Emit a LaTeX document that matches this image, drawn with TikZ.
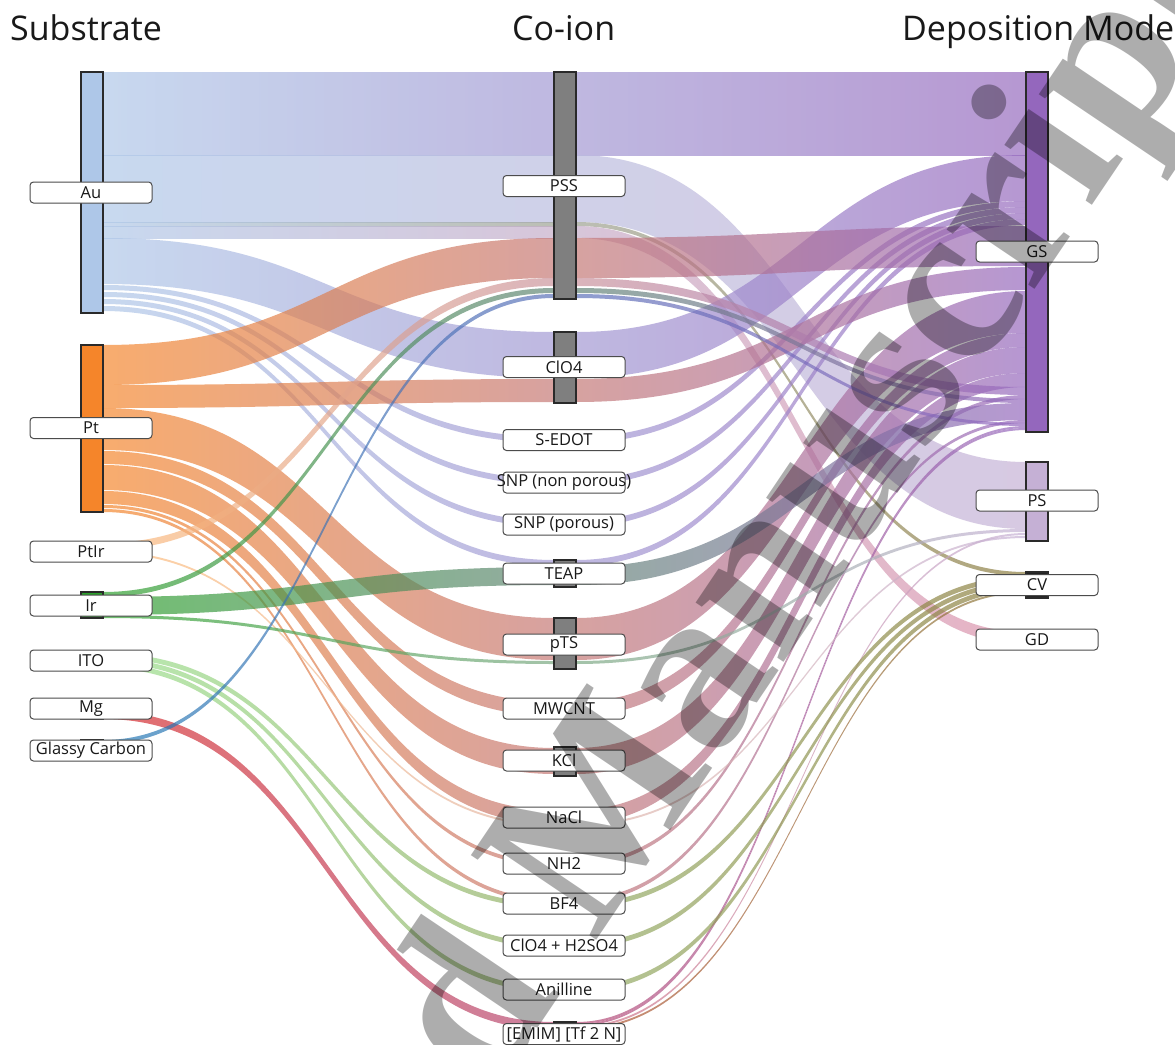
\documentclass[tikz,border=0pt]{standalone}
\usepackage{fontspec}
\setmainfont{Open Sans}
\newfontfamily\wmfont{Liberation Serif}
\usetikzlibrary{calc}
\pgfdeclarelayer{bg}
\pgfsetlayers{bg,main}
\definecolor{cAu}{HTML}{AEC7E8}
\definecolor{cPt}{HTML}{F5852A}
\definecolor{cPtIr}{HTML}{FFBB78}
\definecolor{cIr}{HTML}{2CA02C}
\definecolor{cITO}{HTML}{98DF8A}
\definecolor{cMg}{HTML}{D62728}
\definecolor{cGC}{HTML}{1F77B4}
\definecolor{cMid}{HTML}{7F7F7F}
\definecolor{cGS}{HTML}{9467BD}
\definecolor{cPS}{HTML}{C5B0D5}
\definecolor{cCV}{HTML}{8A7A3A}
\definecolor{cCVbar}{HTML}{222222}
\definecolor{cGD}{HTML}{DC8FA8}
\definecolor{cEdge}{HTML}{2A2A2A}
% band between two bars: src, src top y, src bottom y, tgt, tgt top y, tgt bottom y, left colour, right colour
\newcommand\flowband[8]{%
  \path[bandfill,left color=#7,right color=#8]
    let \p1=(#1.east |- 0,#2), \p2=(#1.east |- 0,#3),
        \p3=(#4.west |- 0,#5), \p4=(#4.west |- 0,#6),
        \p5=($(\p1)!0.5!(\p3)$)
    in (\p1) .. controls (\x5,\y1) and (\x5,\y3) .. (\p3)
       -- (\p4) .. controls (\x5,\y4) and (\x5,\y2) .. (\p2) -- cycle;}
\newcommand\labeltxt[1]{\makebox[0pt][c]{#1}}
\begin{document}
\begin{tikzpicture}[x=1pt,y=-1pt,
  bandfill/.style={fill opacity=0.68,draw=none},
  barbox/.style={draw=cEdge,line width=1.3pt,inner sep=0pt,outer sep=0pt,minimum width=22pt,anchor=north west},
  lbl/.style={draw=black!70,line width=1pt,fill=white,rounded corners=3.5pt,minimum width=122pt,minimum height=21pt,inner sep=0pt,font=\fontsize{16.5}{18}\selectfont,text=black!90},
  ttl/.style={anchor=base west,inner sep=0pt,font=\fontsize{34}{40}\selectfont,text=black!90},
  wm/.style={inner sep=0pt,rotate=56,font=\wmfont\bfseries\fontsize{231}{231}\selectfont,text=black,text opacity=0.32}]
\useasboundingbox (0,0) rectangle (1175,1044);
\begin{pgfonlayer}{bg}
\fill[white] (0,0) rectangle (1175,1044);
\end{pgfonlayer}
% titles
\node[ttl] (tS) at (10,40) {Substrate};
\node[ttl] (tC) at (512,40) {Co-ion};
\node[ttl] (tD) at (902,40) {Deposition Mode};
% substrate bars
\node[barbox,fill=cAu,minimum height=241pt] (Au) at (81,72) {};
\node[barbox,fill=cPt,minimum height=167pt] (Pt) at (81,345) {};
\node[barbox,fill=cPtIr,minimum height=10pt] (PtIr) at (81,543) {};
\node[barbox,fill=cIr,minimum height=26pt] (Ir) at (81,592) {};
\node[barbox,fill=cITO,minimum height=15pt] (ITO) at (81,653) {};
\node[barbox,fill=cMg,minimum height=8pt] (Mg) at (81,711) {};
\node[barbox,fill=cGC,minimum height=4pt] (GC) at (81,740) {};
% co-ion bars
\node[barbox,fill=cMid,minimum height=227pt] (PSS) at (554,72) {};
\node[barbox,fill=cMid,minimum height=71pt] (ClO) at (554,332) {};
\node[barbox,fill=cMid,minimum height=6pt] (SEDOT) at (554,437) {};
\node[barbox,fill=cMid,minimum height=6pt] (SNPn) at (554,479) {};
\node[barbox,fill=cMid,minimum height=6pt] (SNPp) at (554,521) {};
\node[barbox,fill=cMid,minimum height=27pt] (TEAP) at (554,560) {};
\node[barbox,fill=cMid,minimum height=51pt] (pTS) at (554,618) {};
\node[barbox,fill=cMid,minimum height=14pt] (MWCNT) at (554,702) {};
\node[barbox,fill=cMid,minimum height=29pt] (KCl) at (554,747) {};
\node[barbox,fill=cMid,minimum height=16pt] (NaCl) at (554,810) {};
\node[barbox,fill=cMid,minimum height=4pt] (NH) at (554,862) {};
\node[barbox,fill=cMid,minimum height=9pt] (BF) at (554,899) {};
\node[barbox,fill=cMid,minimum height=5pt] (ClH) at (554,943) {};
\node[barbox,fill=cMid,minimum height=5pt] (Ani) at (554,987) {};
\node[barbox,fill=cMid,minimum height=8pt] (EMIM) at (554,1022) {};
% deposition bars
\node[barbox,fill=cGS,minimum height=360pt] (GS) at (1026,72) {};
\node[barbox,fill=cPS,minimum height=79pt] (PS) at (1026,462) {};
\node[barbox,fill=cCVbar,minimum height=26pt] (CV) at (1026,572) {};
\node[barbox,fill=cGD,minimum height=12pt] (GD) at (1026,632) {};
\begin{pgfonlayer}{bg}
% ---- substrate -> co-ion
\flowband{Au}{72}{155}{PSS}{72}{155}{cAu}{cAu!50!cGS}
\flowband{Au}{155}{222}{PSS}{155}{222}{cAu}{cAu!50!cPS}
\flowband{Au}{222}{226}{PSS}{222}{226}{cAu}{cAu!50!cCV}
\flowband{Au}{226}{238}{PSS}{226}{238}{cAu}{cAu!50!cGD}
\flowband{Au}{238}{284}{ClO}{332}{378}{cAu}{cAu!50!cGS}
\flowband{Au}{285}{290}{SEDOT}{437}{443}{cAu}{cAu!50!cGS}
\flowband{Au}{292}{297}{SNPn}{479}{485}{cAu}{cAu!50!cGS}
\flowband{Au}{299}{304}{SNPp}{521}{527}{cAu}{cAu!50!cGS}
\flowband{Au}{306}{311}{TEAP}{560}{566}{cAu}{cAu!50!cGS}
\flowband{Pt}{345}{385}{PSS}{238}{278}{cPt}{cPt!50!cGS}
\flowband{Pt}{385}{408}{ClO}{379}{402}{cPt}{cPt!50!cGS}
\flowband{Pt}{408}{450}{pTS}{618}{660}{cPt}{cPt!50!cGS}
\flowband{Pt}{451}{464}{MWCNT}{702}{716}{cPt}{cPt!50!cGS}
\flowband{Pt}{465}{490}{KCl}{748}{774}{cPt}{cPt!50!cGS}
\flowband{Pt}{491}{504}{NaCl}{810}{824}{cPt}{cPt!50!cGS}
\flowband{Pt}{505}{508}{NH}{862}{866}{cPt}{cPt!50!cGS}
\flowband{Pt}{509}{512}{BF}{899}{903}{cPt}{cPt!50!cGS}
\flowband{PtIr}{543}{550}{PSS}{278}{286}{cPtIr}{cPtIr!50!cGS}
\flowband{PtIr}{551}{553}{NaCl}{824}{826}{cPtIr}{cPtIr!50!cPS}
\flowband{Ir}{592}{597}{PSS}{288}{293}{cIr}{cIr!50!cGS}
\flowband{Ir}{597}{615}{TEAP}{567}{585}{cIr}{cIr!50!cGS}
\flowband{Ir}{615}{618}{pTS}{661}{664}{cIr}{cIr!50!cPS}
\flowband{ITO}{653}{658}{BF}{903}{908}{cITO}{cITO!50!cCV}
\flowband{ITO}{658}{663}{ClH}{943}{948}{cITO}{cITO!50!cCV}
\flowband{ITO}{663}{668}{Ani}{987}{992}{cITO}{cITO!50!cCV}
\flowband{Mg}{711}{719}{EMIM}{1022}{1030}{cMg}{cMg!50!cGS}
\flowband{GC}{740}{744}{PSS}{294}{298}{cGC}{cGC!50!cGS}
% ---- co-ion -> deposition mode
\flowband{PSS}{72}{155}{GS}{72}{155}{cAu!50!cGS}{cGS}
\flowband{PSS}{155}{222}{PS}{462}{529}{cAu!50!cPS}{cPS}
\flowband{PSS}{222}{226}{CV}{572}{576}{cAu!50!cCV}{cCV}
\flowband{PSS}{226}{238}{GD}{632}{644}{cAu!50!cGD}{cGD}
\flowband{ClO}{332}{378}{GS}{155}{201}{cAu!50!cGS}{cGS}
\flowband{SEDOT}{437}{443}{GS}{201}{207}{cAu!50!cGS}{cGS}
\flowband{SNPn}{479}{485}{GS}{207}{213}{cAu!50!cGS}{cGS}
\flowband{SNPp}{521}{527}{GS}{213}{219}{cAu!50!cGS}{cGS}
\flowband{TEAP}{560}{566}{GS}{219}{225}{cAu!50!cGS}{cGS}
\flowband{PSS}{238}{278}{GS}{226}{266}{cPt!50!cGS}{cGS}
\flowband{ClO}{379}{402}{GS}{267}{290}{cPt!50!cGS}{cGS}
\flowband{pTS}{618}{660}{GS}{291}{333}{cPt!50!cGS}{cGS}
\flowband{MWCNT}{702}{716}{GS}{333}{347}{cPt!50!cGS}{cGS}
\flowband{KCl}{748}{774}{GS}{347}{373}{cPt!50!cGS}{cGS}
\flowband{NaCl}{810}{824}{GS}{373}{387}{cPt!50!cGS}{cGS}
\flowband{PSS}{278}{286}{GS}{387}{395}{cPtIr!50!cGS}{cGS}
\flowband{NH}{862}{866}{GS}{395}{399}{cPt!50!cGS}{cGS}
\flowband{PSS}{288}{293}{GS}{399}{403}{cIr!50!cGS}{cGS}
\flowband{TEAP}{567}{585}{GS}{403}{420}{cIr!50!cGS}{cGS}
\flowband{BF}{899}{903}{GS}{420}{423}{cPt!50!cGS}{cGS}
\flowband{PSS}{294}{298}{GS}{423}{426}{cGC!50!cGS}{cGS}
\flowband{EMIM}{1022}{1024}{GS}{426}{428}{cMg!50!cGS}{cGS}
\flowband{EMIM}{1024}{1026}{GS}{428}{430}{cMg!50!cGS}{cGS}
\flowband{pTS}{661}{664}{PS}{529}{532}{cIr!50!cPS}{cPS}
\flowband{EMIM}{1026}{1028}{PS}{533}{535}{cMg!50!cPS}{cPS}
\flowband{NaCl}{824}{826}{PS}{536}{538}{cPtIr!50!cPS}{cPS}
\flowband{BF}{903}{908}{CV}{576}{581}{cITO!50!cCV}{cCV}
\flowband{ClH}{943}{948}{CV}{581}{586}{cITO!50!cCV}{cCV}
\flowband{Ani}{987}{992}{CV}{586}{591}{cITO!50!cCV}{cCV}
\flowband{EMIM}{1028}{1030}{CV}{591}{593}{cMg!50!cCV}{cCV}
\end{pgfonlayer}
% labels
\node[lbl] (lAu) at (91,192.5) {\labeltxt{Au}};
\node[lbl] (lPt) at (91,428) {\labeltxt{Pt}};
\node[lbl] (lPtIr) at (91,551.5) {\labeltxt{PtIr}};
\node[lbl] (lIr) at (91,605.5) {\labeltxt{Ir}};
\node[lbl] (lITO) at (91,660.5) {\labeltxt{ITO}};
\node[lbl] (lMg) at (91,708.5) {\labeltxt{Mg}};
\node[lbl] (lGC) at (91,750.5) {\labeltxt{Glassy Carbon}};
\node[lbl] (lPSS) at (564,186) {\labeltxt{PSS}};
\node[lbl] (lClO) at (564,367) {\labeltxt{ClO4}};
\node[lbl] (lSEDOT) at (564,440) {\labeltxt{S-EDOT}};
\node[lbl] (lSNPn) at (564,482.5) {\labeltxt{SNP (non porous)}};
\node[lbl] (lSNPp) at (564,524.5) {\labeltxt{SNP (porous)}};
\node[lbl] (lTEAP) at (564,573.5) {\labeltxt{TEAP}};
\node[lbl] (lpTS) at (564,644.5) {\labeltxt{pTS}};
\node[lbl] (lMWCNT) at (564,708.5) {\labeltxt{MWCNT}};
\node[lbl] (lKCl) at (564,760.5) {\labeltxt{KCl}};
\node[lbl] (lNaCl) at (564,817.5) {\labeltxt{NaCl}};
\node[lbl] (lNH) at (564,863.5) {\labeltxt{NH2}};
\node[lbl] (lBF) at (564,903.5) {\labeltxt{BF4}};
\node[lbl] (lClH) at (564,945.5) {\labeltxt{ClO4 + H2SO4}};
\node[lbl] (lAni) at (564,989.5) {\labeltxt{Anilline}};
\node[lbl] (lEMIM) at (564,1034) {\labeltxt{[EMIM] [Tf 2 N]}};
\node[lbl] (lGS) at (1037,251.5) {\labeltxt{GS}};
\node[lbl] (lPS) at (1037,500.5) {\labeltxt{PS}};
\node[lbl] (lCV) at (1037,585) {\labeltxt{CV}};
\node[lbl] (lGD) at (1037,639.5) {\labeltxt{GD}};
% watermark
\node[wm,anchor=base west] (wmB) at (594,944) {Manuscript};
\node[wm,anchor=base east] (wmA) at (562,992) {Accepted};
\end{tikzpicture}
\end{document}
